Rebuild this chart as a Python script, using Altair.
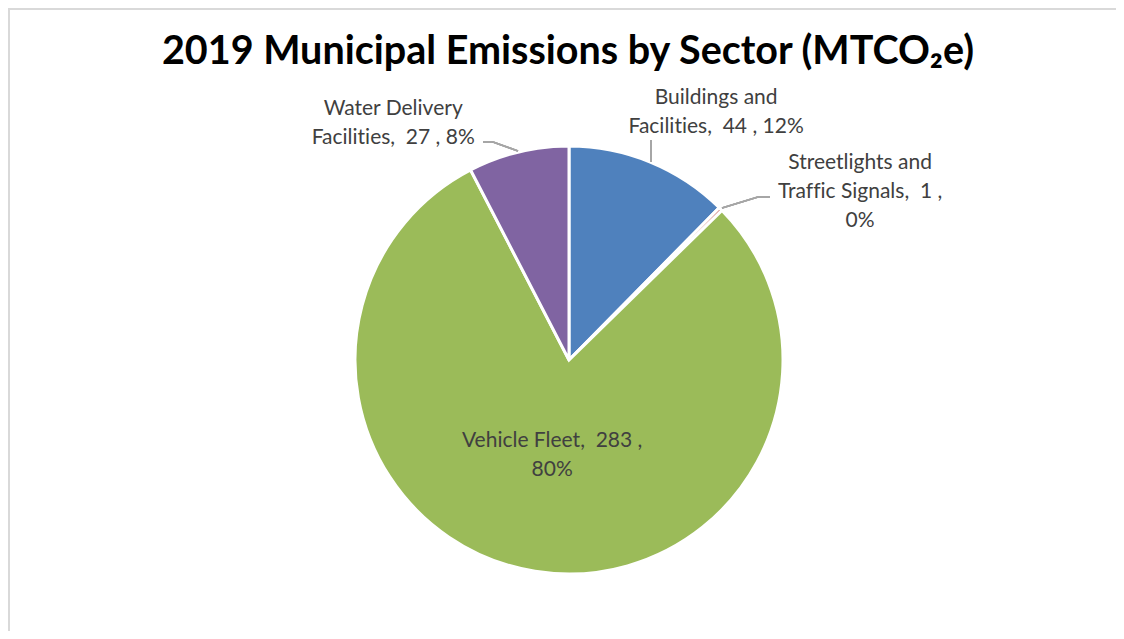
import altair as alt
import pandas as pd

# ---- data ----
sectors = ["Buildings and Facilities", "Streetlights and Traffic Signals",
           "Vehicle Fleet", "Water Delivery Facilities"]
values = [44, 1, 283, 27]
labels = ["Buildings and\nFacilities,\u00a0 44 , 12%",
          "Streetlights and\nTraffic Signals,\u00a0 1 ,\n0%",
          "Vehicle Fleet,\u00a0 283 ,\n80%",
          "Water Delivery\nFacilities,\u00a0 27 , 8%"]
order = [0, 1, 2, 3]
colors = ["#4F81BD", "#C0504D", "#9BBB59", "#8064A2"]
title_text = "2019 Municipal Emissions by Sector (MTCO\u2082e)"

# break the ligatures of the substitute font with an invisible non-joiner
labels_shown = [l.replace("ti", "t\u200ci").replace("ffi", "f\u200cf\u200ci") for l in labels]

df = pd.DataFrame({"sector": sectors, "value": values, "label": labels_shown, "order": order})

W, H = 1108, 623
CX, CY, R = 561, 352, 214
FONT = "Lato"
LABEL_COLOR = "#404040"
LEADER = "#a6a6a6"

base = (alt.Chart(df)
        .transform_window(cum="sum(value)", sort=[alt.SortField("order")], frame=[None, 0])
        .transform_joinaggregate(total="sum(value)")
        .transform_calculate(start="2*PI*(datum.cum-datum.value)/datum.total")
        .transform_calculate(end="2*PI*datum.cum/datum.total")
        .transform_calculate(mid="(datum.start+datum.end)/2"))

pie = base.mark_arc(radius=R, stroke="white", strokeWidth=3).encode(
    theta=alt.Theta("start:Q", scale=None, stack=None),
    theta2="end:Q",
    color=alt.Color("sector:N", scale=alt.Scale(domain=sectors, range=colors), legend=None),
    x=alt.value(CX), y=alt.value(CY),
)

# label placement styles: (radius, dx, dy)
label_style = {
    sectors[0]: (240, 56, -40),
    sectors[1]: (240, 121, -28),
    sectors[2]: (100, -1, -18),
    sectors[3]: (240, -119, -18),
}

layers = [pie]
for s in sectors:
    rr, dx, dy = label_style[s]
    layers.append(
        base.transform_filter(alt.datum.sector == s)
        .mark_text(radius=rr, dx=dx, dy=dy, lineBreak="\n", align="center", baseline="middle",
                   font=FONT, fontSize=21, color=LABEL_COLOR, lineHeight=29)
        .encode(theta=alt.Theta("mid:Q", scale=None, stack=None), text="label:N",
                x=alt.value(CX), y=alt.value(CY))
    )

# leader lines
leaders = [
    (643, 132, 643, 154),
    (714, 200, 750, 189),
    (750, 189, 762, 189),
    (475, 134, 485, 134),
    (485, 134, 510, 143),
]
for (x1, y1, x2, y2) in leaders:
    layers.append(alt.Chart(df).mark_rule(color=LEADER, strokeWidth=1.5).encode(
        x=alt.value(x1), y=alt.value(y1), x2=alt.value(x2), y2=alt.value(y2)))

# frame (left and top edges)
layers.append(alt.Chart(df).mark_rule(color="#d9d9d9", strokeWidth=2).encode(
    x=alt.value(1), y=alt.value(0), y2=alt.value(H)))
layers.append(alt.Chart(df).mark_rule(color="#d9d9d9", strokeWidth=2).encode(
    x=alt.value(0), x2=alt.value(W), y=alt.value(1)))

title = alt.Chart(pd.DataFrame({"t": [title_text]})).mark_text(
    font=FONT, fontSize=39.5, fontWeight="bold", color="#000000", align="center", baseline="alphabetic"
).encode(text="t:N", x=alt.value(560), y=alt.value(56))
layers.append(title)

chart = alt.layer(*layers).properties(
    width=W, height=H, padding=0, autosize=alt.AutoSizeParams(type="none")
).configure_view(stroke=None)

chart.save("out.html", embed_options={"renderer": "svg", "actions": False})
